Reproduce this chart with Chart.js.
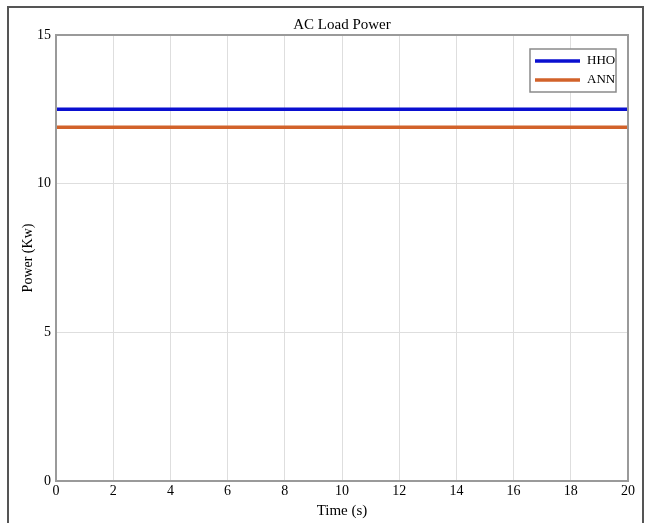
<!DOCTYPE html>
<html>
<head>
<meta charset="utf-8">
<script src="https://cdn.jsdelivr.net/npm/chart.js@4"></script>
<style>
  body { margin: 0; background: #fff; }
  #wrap { position: relative; width: 650px; height: 523px; overflow: hidden; }
  #frame { position: absolute; left: 7px; top: 6px; width: 633px; height: 600px;
           border: 2px solid #555; border-bottom: none; pointer-events: none; }
  canvas { position: absolute; left: 0; top: 0; }
</style>
</head>
<body>
<div id="wrap">
  <canvas id="myChart" width="650" height="523"></canvas>
  <div id="frame"></div>
</div>
<script>
// values
var time = [0, 20];
var hhoPower = [12.5, 12.5];
var annPower = [11.9, 11.9];
var seriesNames = ['HHO', 'ANN'];
var seriesColors = ['#0a0fd0', '#d2622a'];

function toPoints(xs, ys) {
    let pts = [];
    for (let i = 0; i < xs.length; i++) {
        pts.push({ x: xs[i], y: ys[i] });
    }
    return pts;
}

const serif = '"Liberation Serif", "Times New Roman", serif';

// plot box + legend box, drawn matlab style
const boxPlugin = {
    id: 'boxPlugin',
    afterDatasetsDraw(chart) {
        const ctx = chart.ctx;
        const a = chart.chartArea;
        ctx.save();
        ctx.strokeStyle = '#9a9a9a';
        ctx.lineWidth = 2;
        ctx.strokeRect(a.left, a.top, a.right - a.left, a.bottom - a.top);

        // legend
        const w = 86, h = 43;
        const lx = a.right - 12 - w, ly = a.top + 14;
        ctx.fillStyle = '#fff';
        ctx.fillRect(lx, ly, w, h);
        ctx.strokeStyle = '#8a8a8a';
        ctx.lineWidth = 1.5;
        ctx.strokeRect(lx, ly, w, h);
        ctx.font = '13px ' + serif;
        ctx.textBaseline = 'middle';
        chart.data.datasets.forEach((ds, i) => {
            const y = ly + 12 + i * 19;
            ctx.strokeStyle = ds.borderColor;
            ctx.lineWidth = 3.5;
            ctx.beginPath();
            ctx.moveTo(lx + 5, y);
            ctx.lineTo(lx + 50, y);
            ctx.stroke();
            ctx.fillStyle = '#000';
            ctx.fillText(ds.label, lx + 57, y);
        });
        ctx.restore();
    }
};

var ctx = document.getElementById('myChart').getContext('2d');
var chart = new Chart(ctx, {
    type: 'line',
    data: {
        datasets: [{
            label: seriesNames[0],
            borderColor: seriesColors[0],
            backgroundColor: seriesColors[0],
            data: toPoints(time, hhoPower),
            borderWidth: 3.5,
            pointRadius: 0,
            fill: false
        },
        {
            label: seriesNames[1],
            borderColor: seriesColors[1],
            backgroundColor: seriesColors[1],
            data: toPoints(time, annPower),
            borderWidth: 3.5,
            pointRadius: 0,
            fill: false
        }]
    },
    options: {
        responsive: false,
        animation: false,
        layout: { padding: { left: 0, right: 22, top: 0, bottom: 0 } },
        plugins: {
            legend: { display: false },
            tooltip: { enabled: false },
            title: {
                display: true,
                text: 'AC Load Power',
                fullSize: false,
                color: '#000',
                font: { family: serif, size: 15, weight: 'normal' },
                padding: { top: 16, bottom: 1 }
            }
        },
        scales: {
            x: {
                type: 'linear',
                min: 0,
                max: 20,
                ticks: { stepSize: 2, color: '#000', padding: 2,
                         font: { family: serif, size: 14 }, maxRotation: 0 },
                grid: { color: '#dedede', lineWidth: 1, drawTicks: false },
                border: { display: false },
                title: { display: true, text: 'Time (s)', color: '#000',
                         font: { family: serif, size: 15 },
                         padding: { top: 0, bottom: 3 } },
                afterFit(scale) { scale.height = 42; }
            },
            y: {
                min: 0,
                max: 15,
                ticks: { stepSize: 5, color: '#000', padding: 5,
                         font: { family: serif, size: 14 } },
                grid: { color: '#dedede', lineWidth: 1, drawTicks: false },
                border: { display: false },
                title: { display: true, text: 'Power (Kw)', color: '#000',
                         font: { family: serif, size: 14 },
                         padding: { top: 20, bottom: 0 } },
                afterFit(scale) { scale.width = 56; }
            }
        }
    },
    plugins: [boxPlugin]
});
</script>
</body>
</html>
